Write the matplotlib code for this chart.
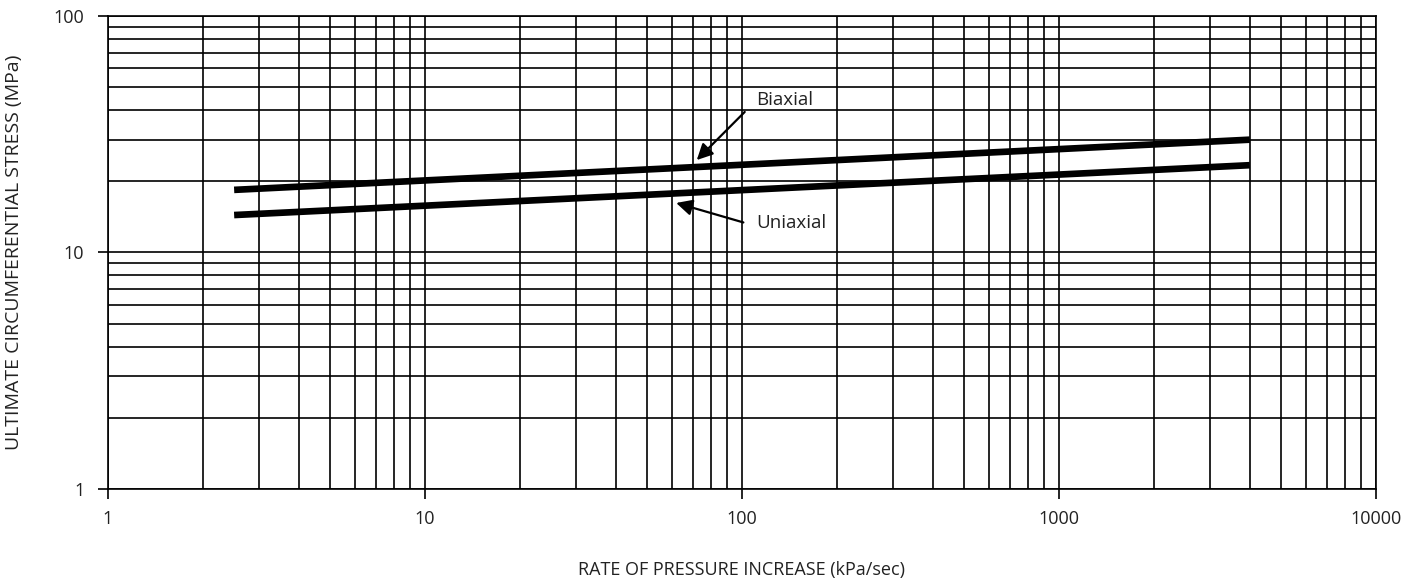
import numpy as np
import matplotlib
matplotlib.use('Agg')
import matplotlib.pyplot as plt
from matplotlib.ticker import LogLocator, NullFormatter

plt.rcParams['font.family'] = ['Open Sans', 'DejaVu Sans']

# rate of pressure increase (kPa/sec) and ultimate circumferential stress (MPa)
rate = [2.5, 4000]
biaxial = [18.4, 30.0]
uniaxial = [14.4, 23.4]

x_ticks = [1, 10, 100, 1000, 10000]
x_tick_labels = ['1', '10', '100', '1000', '10000']
y_ticks = [1, 10, 100]
y_tick_labels = ['1', '10', '100']

fig = plt.figure(figsize=(14.19, 5.87), dpi=100)
ax = fig.add_axes([0.0761, 0.1670, 0.8936, 0.8057])

ax.set_xscale('log')
ax.set_yscale('log')
ax.set_xlim(1, 10000)
ax.set_ylim(1, 100)

ax.set_xticks(x_ticks)
ax.set_xticklabels(x_tick_labels)
ax.set_yticks(y_ticks)
ax.set_yticklabels(y_tick_labels)
ax.xaxis.set_minor_locator(LogLocator(base=10, subs=np.arange(2, 10)))
ax.yaxis.set_minor_locator(LogLocator(base=10, subs=np.arange(2, 10)))
ax.xaxis.set_minor_formatter(NullFormatter())
ax.yaxis.set_minor_formatter(NullFormatter())

ax.grid(True, which='both', color='black', linewidth=1.2)
ax.tick_params(which='major', length=7, width=1.2, color='black',
               labelsize=13, labelcolor='#222222')
ax.tick_params(axis='x', which='major', pad=8)
ax.tick_params(axis='y', which='major', pad=10)
ax.tick_params(which='minor', length=0)
for s in ax.spines.values():
    s.set_linewidth(1.2)

ax.plot(rate, biaxial, color='black', linewidth=4.8, solid_capstyle='butt', zorder=3)
ax.plot(rate, uniaxial, color='black', linewidth=4.8, solid_capstyle='butt', zorder=3)

ax.annotate('', xy=(72, 24.6), xytext=(102, 39.3),
            arrowprops=dict(arrowstyle='-|>', color='black', lw=1.6,
                            mutation_scale=24, shrinkA=0, shrinkB=0))
ax.text(111, 44.1, 'Biaxial', fontsize=13.5, color='#222222', ha='left', va='center')
ax.annotate('', xy=(62, 16.2), xytext=(101, 13.4),
            arrowprops=dict(arrowstyle='-|>', color='black', lw=1.6,
                            mutation_scale=24, shrinkA=0, shrinkB=0))
ax.text(111, 13.3, 'Uniaxial', fontsize=13.5, color='#222222', ha='left', va='center')

ax.set_xlabel('RATE OF PRESSURE INCREASE (kPa/sec)', fontsize=13,
              color='#222222', labelpad=24)
ax.set_ylabel('ULTIMATE CIRCUMFERENTIAL STRESS (MPa)', fontsize=14,
              color='#222222', labelpad=22)

fig.savefig('out.png', dpi=100)
